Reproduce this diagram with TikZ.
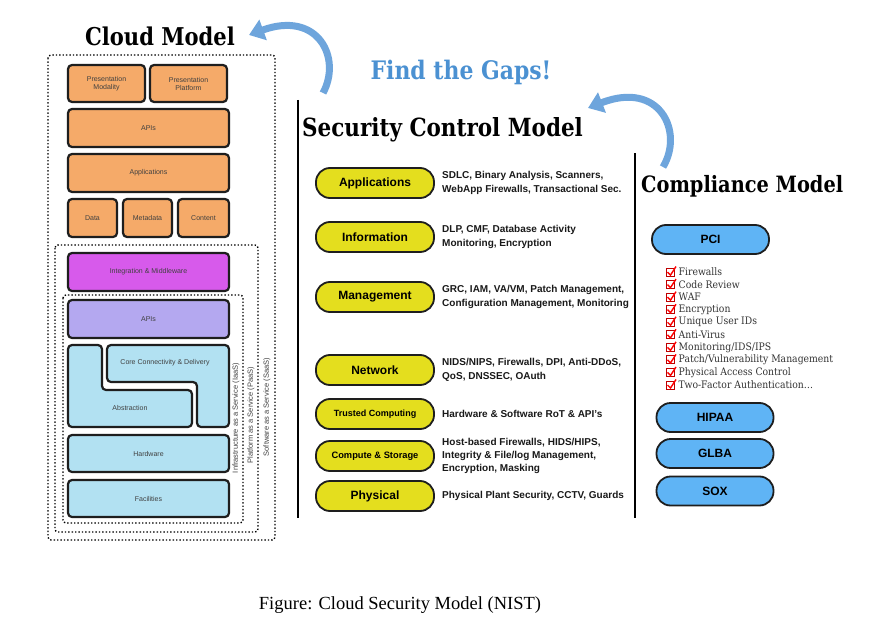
\documentclass[tikz,border=0pt]{standalone}
\usepackage{fontspec}
\setmainfont{Liberation Sans}
\newfontfamily\headfont[FakeStretch=0.86]{DejaVu Serif}
\newfontfamily\listfont[FakeStretch=0.9]{DejaVu Serif}
\newfontfamily\capfont{Liberation Serif}
\usetikzlibrary{arrows.meta}
\definecolor{layerorange}{RGB}{245,170,105}
\definecolor{layermagenta}{RGB}{215,90,235}
\definecolor{layerlavender}{RGB}{180,168,240}
\definecolor{layerblue}{RGB}{178,225,242}
\definecolor{ctrlyellow}{RGB}{228,222,30}
\definecolor{compblue}{RGB}{95,180,245}
\definecolor{gapblue}{RGB}{75,145,210}
\definecolor{arrowblue}{RGB}{110,165,220}
\definecolor{boxedge}{RGB}{30,30,30}
\tikzset{
	layer/.style={draw=boxedge, line width=2.2pt, rounded corners=4pt, inner sep=0pt, align=center,
		font=\fontsize{7}{8}\selectfont, text=black!75},
	svcbox/.style={dotted, line width=1.4pt, rounded corners=3pt},
	svclabel/.style={rotate=90, font=\fontsize{7.5}{8}\selectfont, text=black!75},
	pill/.style={draw=boxedge, line width=1.8pt, rounded corners=14pt, minimum width=118pt, minimum height=30pt,
		inner sep=0pt, fill=ctrlyellow, font=\bfseries\fontsize{12}{14}\selectfont},
	cpill/.style={pill, fill=compblue, minimum width=117pt, minimum height=29pt},
	desc/.style={anchor=west, align=left, inner sep=0pt, text=black!90, font=\bfseries\fontsize{10}{13.4}\selectfont},
	heading/.style={anchor=west, inner sep=0pt, font=\headfont\bfseries\fontsize{25}{27}\selectfont},
	checkitem/.style={anchor=west, inner sep=0pt, text=black!80, font=\listfont\fontsize{10.3}{11}\selectfont},
	gaparrow/.style={draw=arrowblue, line width=7pt, -{Triangle[width=21pt,length=15pt]}}
}
\begin{document}
\begin{tikzpicture}[x=1pt,y=-1pt]
	\useasboundingbox[fill=white] (0,0) rectangle (884,642);

	% cloud model
	\node[font=\headfont\bfseries\fontsize{24.5}{26}\selectfont] (cloudtitle) at (160,36) {Cloud Model};
	\draw[svcbox] (48,55) rectangle (275,540);
	\draw[svcbox] (55,245) rectangle (258,532);
	\draw[svcbox] (63,295) rectangle (243,523);
	\node[svclabel] (saas) at (267,407) {Software as a Service (SaaS)};
	\node[svclabel] (paas) at (251,415) {Platform as a Service (PaaS)};
	\node[svclabel] (iaas) at (236,418) {Infrastructure as a Service (IaaS)};

	\node[layer, fill=layerorange, minimum width=77, minimum height=37] (modality) at (106.5,83.5) {Presentation\\Modality};
	\node[layer, fill=layerorange, minimum width=77, minimum height=37] (platform) at (188.5,83.5) {Presentation\\Platform};
	\node[layer, fill=layerorange, minimum width=161, minimum height=38] (apis) at (148.5,128) {APIs};
	\node[layer, fill=layerorange, minimum width=161, minimum height=38] (apps) at (148.5,173) {Applications};
	\node[layer, fill=layerorange, minimum width=49, minimum height=38] (data) at (92.5,218) {Data};
	\node[layer, fill=layerorange, minimum width=49, minimum height=38] (metadata) at (147.5,218) {Metadata};
	\node[layer, fill=layerorange, minimum width=51, minimum height=38] (content) at (203.5,218) {Content};
	\node[layer, fill=layermagenta, minimum width=161, minimum height=38] (middleware) at (148.5,272) {Integration \& Middleware};
	\node[layer, fill=layerlavender, minimum width=161, minimum height=38] (infraapis) at (148.5,319) {APIs};

	\draw[draw=boxedge, line width=2.2pt, rounded corners=4pt, fill=layerblue]
		(68,345) -- (102,345) -- (102,390) -- (192,390) -- (192,427) -- (68,427) -- cycle;
	\draw[draw=boxedge, line width=2.2pt, rounded corners=4pt, fill=layerblue]
		(107,345) -- (229,345) -- (229,427) -- (197,427) -- (197,382) -- (107,382) -- cycle;
	\node[font=\fontsize{7}{8}\selectfont, text=black!75] (core) at (165,363) {Core Connectivity \& Delivery};
	\node[font=\fontsize{7}{8}\selectfont, text=black!75] (abstraction) at (130,408) {Abstraction};

	\node[layer, fill=layerblue, minimum width=161, minimum height=37] (hardware) at (148.5,453.5) {Hardware};
	\node[layer, fill=layerblue, minimum width=161, minimum height=37] (facilities) at (148.5,498.5) {Facilities};

	% security control model
	\node[font=\headfont\bfseries\fontsize{25.5}{27}\selectfont, text=gapblue] (gaps) at (461,72) {Find the Gaps!};
	\draw[line width=1.3pt] (298,100) -- (298,518);
	\draw[line width=1.3pt] (635,153) -- (635,518);
	\node[heading] (sectitle) at (302,130) {Security Control Model};

	\node[pill] (ctrlapps) at (375,183) {Applications};
	\node[desc] (dapps) at (442,183) {SDLC, Binary Analysis, Scanners,\\WebApp Firewalls, Transactional Sec.};
	\node[pill] (ctrlinfo) at (375,237) {Information};
	\node[desc] (dinfo) at (442,237) {DLP, CMF, Database Activity\\Monitoring, Encryption};
	\node[pill] (ctrlmgmt) at (375,297) {Management};
	\node[desc] (dmgmt) at (442,297) {GRC, IAM, VA/VM, Patch Management,\\Configuration Management, Monitoring};
	\node[pill] (ctrlnet) at (375,370) {Network};
	\node[desc] (dnet) at (442,370) {NIDS/NIPS, Firewalls, DPI, Anti-DDoS,\\QoS, DNSSEC, OAuth};
	\node[pill, font=\bfseries\fontsize{9}{11}\selectfont] (ctrltrust) at (375,414) {Trusted Computing};
	\node[desc] (dtrust) at (442,414) {Hardware \& Software RoT \& API's};
	\node[pill, font=\bfseries\fontsize{9.3}{11}\selectfont] (ctrlcomp) at (375,456) {Compute \& Storage};
	\node[desc] (dcomp) at (442,456) {Host-based Firewalls, HIDS/HIPS,\\Integrity \& File/log Management,\\Encryption, Masking};
	\node[pill] (ctrlphys) at (375,496) {Physical};
	\node[desc] (dphys) at (442,496) {Physical Plant Security, CCTV, Guards};

	% compliance model
	\node[heading, font=\headfont\bfseries\fontsize{22.5}{24}\selectfont] (comptitle) at (641,186) {Compliance Model};
	\node[cpill] (pci) at (710.5,239.5) {PCI};
	\foreach \chk [count=\i] in {Firewalls, Code Review, WAF, Encryption, Unique User IDs, Anti-Virus,
			Monitoring/IDS/IPS, Patch/Vulnerability Management, Physical Access Control, Two-Factor Authentication\ldots}{
		\draw[red!75!black, line width=1pt] (666,259.5+12.55*\i-4) rectangle ++(8,8);
		\draw[red, line width=1.4pt] (667.5,259.5+12.55*\i) -- (670.5,259.5+12.55*\i+3) -- (676,259.5+12.55*\i-5.5);
		\node[checkitem] (item\i) at (678.5,259.5+12.55*\i) {\chk};
	}
	\node[cpill] (hipaa) at (715,417.5) {HIPAA};
	\node[cpill] (glba) at (715,453.5) {GLBA};
	\node[cpill] (sox) at (715,491) {SOX};

	% arrows between the models
	\coordinate (cloudtail) at (323,93);
	\coordinate (cloudtip) at (249,35);
	\draw[gaparrow] (cloudtail) .. controls (342,58) and (318,10) .. (cloudtip);
	\coordinate (sectail) at (663,167);
	\coordinate (sectip) at (588,108);
	\draw[gaparrow] (sectail) .. controls (684,132) and (660,80) .. (sectip);

	\node[font=\capfont\fontsize{18.5}{20}\selectfont] (caption) at (400,605) {Figure: Cloud Security Model (NIST)};
\end{tikzpicture}
\end{document}
